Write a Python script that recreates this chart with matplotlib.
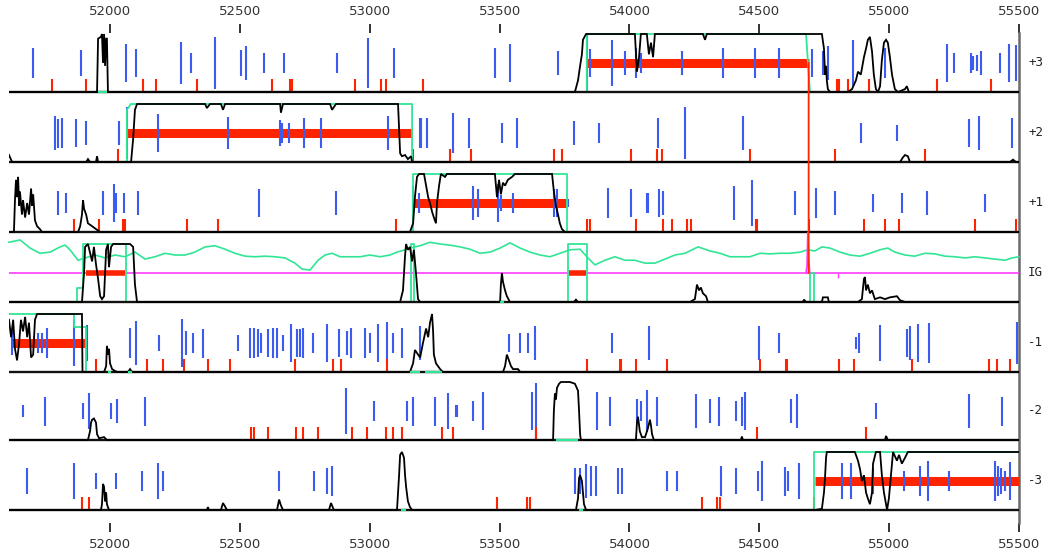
import matplotlib
matplotlib.use("Agg")
import matplotlib.pyplot as plt
from matplotlib.patches import ConnectionPatch

# ---------------------------------------------------------------- data
X_START, X_END = 51611, 55500
TICKS = [52000, 52500, 53000, 53500, 54000, 54500, 55000, 55500]
FRAME_LABELS = ["+3", "+2", "+1", "IG", "-1", "-2", "-3"]

# predicted genes (start, end) per frame
genes_p3 = [(53836, 54690)]
genes_p2 = [(52065, 53163)]
genes_p1 = [(53167, 53755)]
genes_ig = [(51908, 52058), (53767, 53833)]
genes_m1 = [(51623, 51908)]
genes_m2 = []
genes_m3 = [(54714, 55500)]

# start codons: position and relative score (bar length)
starts_p3 = [51704, 51888, 52062, 52100, 52273, 52312, 52404, 52504, 52524, 52593, 52670,
             52874, 52993, 53093, 53482, 53540, 53725, 53836, 53848, 53933, 53983, 54025,
             54044, 54202, 54360, 54483, 54576, 54703, 54745, 54764, 54861, 54984, 55222,
             55249, 55315, 55323, 55338, 55353, 55427, 55461, 55488]
score_p3 = [0.53, 0.45, 0.67, 0.48, 0.74, 0.34, 0.90, 0.45, 0.60, 0.36, 0.36, 0.34, 0.86,
            0.50, 0.53, 0.67, 0.43, 0.97, 0.48, 0.78, 0.43, 0.50, 0.33, 0.40, 0.53, 0.50,
            0.53, 0.48, 0.41, 0.60, 0.78, 0.50, 0.64, 0.33, 0.33, 0.24, 0.26, 0.40, 0.36,
            0.67, 0.62]
starts_p2 = [51788, 51800, 51815, 51869, 51908, 52035, 52065, 52185, 52454, 52655, 52662,
             52689, 52747, 52812, 53070, 53194, 53197, 53220, 53321, 53382, 53509, 53567,
             53786, 53883, 54110, 54214, 54437, 54891, 55030, 55307, 55346, 55473]
score_p2 = [0.57, 0.50, 0.52, 0.47, 0.40, 0.40, 0.90, 0.64, 0.55, 0.45, 0.34, 0.36, 0.52,
            0.52, 0.57, 0.52, 0.52, 0.52, 0.69, 0.52, 0.33, 0.52, 0.40, 0.33, 0.52, 0.90,
            0.60, 0.33, 0.29, 0.48, 0.57, 0.52]
starts_p1 = [51800, 51831, 51973, 52015, 52023, 52054, 52108, 52574, 52870, 53167, 53190,
             53398, 53417, 53494, 53505, 53552, 53709, 53721, 53763, 53917, 54006, 54067,
             54071, 54114, 54129, 54402, 54472, 54637, 54718, 54791, 54938, 55049, 55145,
             55369]
score_p1 = [0.40, 0.36, 0.41, 0.64, 0.34, 0.36, 0.40, 0.47, 0.40, 0.60, 0.34, 0.57, 0.47,
            0.66, 0.29, 0.34, 0.47, 0.47, 0.14, 0.52, 0.47, 0.36, 0.36, 0.48, 0.41, 0.57,
            0.81, 0.40, 0.52, 0.40, 0.31, 0.34, 0.40, 0.31]
starts_ig = []
score_ig = []
starts_m1 = [51623, 51723, 51738, 51757, 51861, 51911, 52077, 52100, 52189, 52277, 52293,
             52320, 52358, 52493, 52539, 52554, 52570, 52581, 52608, 52628, 52643, 52666,
             52697, 52720, 52732, 52743, 52782, 52835, 52882, 52912, 52928, 52982, 53001,
             53032, 53066, 53090, 53124, 53194, 53536, 53579, 53609, 53636, 53933, 54075,
             54499, 54576, 54872, 54884, 54965, 55068, 55080, 55111, 55153, 55492]
score_m1 = [0.41, 0.34, 0.34, 0.52, 0.78, 0.62, 0.52, 0.76, 0.29, 0.83, 0.43, 0.33, 0.50,
            0.29, 0.52, 0.52, 0.47, 0.33, 0.47, 0.53, 0.53, 0.29, 0.67, 0.47, 0.47, 0.53,
            0.33, 0.67, 0.47, 0.43, 0.53, 0.53, 0.33, 0.67, 0.74, 0.33, 0.53, 0.57, 0.31,
            0.34, 0.34, 0.60, 0.36, 0.59, 0.57, 0.33, 0.19, 0.33, 0.62, 0.47, 0.60, 0.64,
            0.69, 0.74]
starts_m2 = [51665, 51750, 51896, 51919, 52004, 52027, 52135, 52909, 53016, 53143, 53167,
             53251, 53301, 53332, 53336, 53398, 53436, 53625, 53640, 53875, 53925, 54029,
             54044, 54067, 54106, 54256, 54310, 54345, 54410, 54433, 54445, 54622, 54645,
             54949, 55307, 55434]
score_m2 = [0.22, 0.50, 0.26, 0.62, 0.26, 0.43, 0.50, 0.78, 0.36, 0.33, 0.50, 0.50, 0.62,
            0.22, 0.22, 0.36, 0.66, 0.67, 0.95, 0.67, 0.50, 0.41, 0.34, 0.71, 0.50, 0.57,
            0.41, 0.50, 0.36, 0.50, 0.67, 0.43, 0.60, 0.26, 0.60, 0.50]
starts_m3 = [51680, 51861, 51946, 52023, 52123, 52185, 52204, 52651, 52785, 52835, 52855,
             53790, 53810, 53833, 53852, 53871, 53956, 53971, 54144, 54183, 54352, 54410,
             54495, 54510, 54599, 54610, 54653, 54818, 54853, 54938, 55057, 55119, 55149,
             55230, 55407, 55419, 55430, 55446, 55465]
score_m3 = [0.45, 0.62, 0.28, 0.28, 0.34, 0.62, 0.34, 0.34, 0.34, 0.45, 0.52, 0.45, 0.45,
            0.59, 0.52, 0.52, 0.45, 0.45, 0.33, 0.33, 0.52, 0.45, 0.34, 0.69, 0.50, 0.34,
            0.62, 0.62, 0.62, 0.45, 0.34, 0.52, 0.69, 0.34, 0.69, 0.52, 0.45, 0.34, 0.66]

# stop codons
stops_p3 = [51777, 51908, 52127, 52177, 52335, 52624, 52693, 52701, 52943, 53043, 53063,
            53205, 54799, 54807, 54841, 54922, 55184, 55392]
stops_p2 = [52031, 53167, 53309, 53390, 53709, 53740, 54006, 54106, 54125, 54464, 54791,
            55138]
stops_p1 = [51861, 51958, 52050, 52058, 52296, 52416, 53101, 53836, 53848, 54025, 54129,
            54164, 54221, 54237, 54487, 54491, 54691, 54903, 54984, 55038, 55330, 55488]
stops_ig = []
stops_m1 = [51946, 52142, 52204, 52285, 52377, 52462, 52712, 52859, 52889, 53066, 53836,
            53964, 53967, 54025, 54144, 54503, 54603, 54606, 54807, 54864, 55088, 55384,
            55415, 55465]
stops_m2 = [52543, 52554, 52608, 52716, 52743, 52801, 52932, 52989, 53063, 53090, 53124,
            53278, 53321, 53640, 54491, 54911]
stops_m3 = [51892, 51919, 53490, 53605, 53617, 54279, 54337, 54349, 54710]

# coding potential (position, probability)
coding_p3 = [(51611, 0), (51950, 0), (51954, 0.92), (51965, 0.95), (51969, 1.0), (51973, 0.5),
             (51977, 1.0), (51981, 0.45), (51985, 0.92), (51988, 0.92), (51992, 0),
             (53790, 0), (53802, 0.2), (53810, 0.45), (53817, 0.65), (53821, 0.9),
             (53833, 1.0), (54021, 1.0), (54029, 0.35), (54037, 0.6), (54044, 1.0),
             (54067, 1.0), (54075, 0.65), (54083, 0.85), (54091, 0.6), (54098, 1.0),
             (54283, 1.0), (54291, 0.9), (54298, 1.0), (54741, 1.0), (54749, 0.75),
             (54753, 0.3), (54757, 0.45), (54760, 0.2), (54764, 0.05), (54772, 0),
             (54841, 0), (54857, 0.05), (54872, 0.2), (54880, 0.35), (54891, 0.3),
             (54903, 0.6), (54911, 0.75), (54918, 0.9), (54926, 0.95), (54934, 0.7),
             (54941, 0.3), (54949, 0.05), (54957, 0), (54965, 0.1), (54972, 0.55),
             (54980, 0.85), (54988, 0.9), (54995, 0.85), (55003, 0.6), (55011, 0.3),
             (55022, 0.05), (55034, 0), (55061, 0.05), (55068, 0.1), (55076, 0), (55500, 0)]
coding_p2 = [(51611, 0.12), (51623, 0), (51908, 0), (51915, 0.05), (51923, 0), (51946, 0),
             (51950, 0.1), (51954, 0), (52081, 0), (52089, 0.4), (52096, 0.9), (52104, 1.0),
             (52366, 1.0), (52373, 0.93), (52385, 1.0), (52427, 1.0), (52435, 0.9),
             (52443, 1.0), (52655, 1.0), (52658, 0.85), (52666, 1.0), (52847, 1.0),
             (52855, 0.9), (52870, 1.0), (53109, 1.0), (53117, 0.15), (53124, 0.1),
             (53136, 0.12), (53147, 0.05), (53159, 0.1), (53163, 0), (55042, 0),
             (55053, 0.08), (55061, 0.12), (55072, 0.1), (55080, 0), (55465, 0),
             (55477, 0.04), (55488, 0), (55500, 0)]
coding_p1 = [(51611, 0), (51630, 0), (51634, 0.55), (51638, 0.9), (51642, 0.6), (51646, 0.95),
             (51650, 0.45), (51653, 0.7), (51661, 0.3), (51665, 0.55), (51673, 0.25),
             (51681, 0.5), (51688, 0.3), (51696, 0.75), (51700, 0.45), (51704, 0.65),
             (51711, 0.2), (51719, 0.1), (51730, 0.05), (51738, 0), (51877, 0), (51885, 0.1),
             (51892, 0.3), (51896, 0.55), (51900, 0.4), (51908, 0.3), (51915, 0.15),
             (51931, 0.1), (51946, 0.05), (51962, 0), (53155, 0), (53167, 0.15),
             (53174, 0.6), (53182, 0.95), (53190, 1.0), (53209, 1.0), (53217, 0.8),
             (53225, 0.6), (53232, 0.5), (53240, 0.35), (53247, 0.25), (53255, 0.15),
             (53259, 0.5), (53267, 0.8), (53274, 1.0), (53290, 0.95), (53297, 1.0),
             (53482, 1.0), (53490, 0.6), (53498, 0.9), (53505, 0.65), (53513, 0.85),
             (53521, 0.8), (53532, 0.9), (53548, 0.95), (53559, 1.0), (53702, 1.0),
             (53709, 0.7), (53717, 0.45), (53725, 0.3), (53732, 0.15), (53740, 0.05),
             (53752, 0), (55500, 0)]
coding_ig = [(51611, 0), (51892, 0), (51900, 0.5), (51904, 0.95), (51915, 1.0), (51923, 0.85),
             (51931, 0.7), (51938, 0.95), (51946, 0.65), (51954, 0.4), (51962, 0.1),
             (51969, 0.05), (51977, 0.1), (51985, 0.9), (51992, 1.0), (51996, 0.6),
             (52004, 0.95), (52012, 1.0), (52077, 1.0), (52089, 0.95), (52096, 0.3),
             (52104, 0), (53117, 0), (53128, 0.2), (53136, 0.8), (53140, 1.0), (53147, 0.9),
             (53155, 0.95), (53163, 0.7), (53170, 0.9), (53178, 0.5), (53186, 0.05),
             (53194, 0), (53502, 0), (53505, 0.3), (53509, 0.5), (53513, 0.35), (53521, 0.2),
             (53528, 0.1), (53540, 0), (53786, 0), (53794, 0.04), (53802, 0), (54233, 0),
             (54252, 0.05), (54260, 0.3), (54268, 0.2), (54275, 0.25), (54283, 0.15),
             (54295, 0.1), (54302, 0), (54668, 0), (54672, 0.04), (54680, 0), (54741, 0),
             (54745, 0.08), (54764, 0.08), (54768, 0), (54880, 0), (54895, 0.05),
             (54903, 0.4), (54907, 0.43), (54911, 0.2), (54918, 0.3), (54926, 0.15),
             (54934, 0.2), (54945, 0.05), (54965, 0.08), (54984, 0.05), (55003, 0.08),
             (55030, 0.1), (55042, 0.03), (55061, 0), (55500, 0)]
coding_m1 = [(51611, 0.9), (51619, 0.6), (51627, 0.9), (51634, 0.4), (51642, 0.2), (51650, 0.5),
             (51657, 0.9), (51665, 0.7), (51673, 0.95), (51681, 0.6), (51688, 0.85),
             (51696, 0.25), (51704, 0.3), (51711, 0.9), (51719, 1.0), (51892, 1.0),
             (51894, 0), (51977, 0), (51985, 0.1), (51988, 0.45), (51992, 0.3), (51996, 0.4),
             (52000, 0.15), (52008, 0.05), (52015, 0.03), (52027, 0), (52069, 0),
             (52077, 0.05), (52085, 0), (53155, 0), (53167, 0.15), (53174, 0.38),
             (53186, 0.3), (53194, 0.25), (53205, 0.5), (53217, 0.75), (53225, 0.6),
             (53232, 0.85), (53240, 1.0), (53244, 0.7), (53247, 0.3), (53255, 0.15),
             (53263, 0.1), (53271, 0.05), (53282, 0), (53513, 0), (53521, 0.1), (53528, 0.3),
             (53536, 0.2), (53544, 0.1), (53552, 0.05), (53571, 0.05), (53579, 0), (55500, 0)]
coding_m2 = [(51611, 0), (51915, 0), (51923, 0.15), (51927, 0.3), (51931, 0.35), (51938, 0.37),
             (51946, 0.3), (51950, 0.1), (51958, 0.03), (51977, 0.05), (51988, 0),
             (53706, 0), (53709, 0.5), (53713, 0.8), (53717, 0.7), (53721, 0.9),
             (53729, 0.97), (53736, 1.0), (53771, 1.0), (53790, 0.97), (53802, 0.85),
             (53806, 0.5), (53810, 0.1), (53813, 0), (54025, 0), (54029, 0.3), (54033, 0.4),
             (54040, 0.15), (54048, 0.05), (54060, 0.05), (54071, 0.2), (54079, 0.35),
             (54083, 0.25), (54087, 0.1), (54094, 0), (54429, 0), (54433, 0.06), (54437, 0),
             (54984, 0), (54988, 0.07), (54995, 0), (55500, 0)]
coding_m3 = [(51611, 0), (51965, 0), (51969, 0.1), (51973, 0.45), (51977, 0.4), (51981, 0.15),
             (51985, 0.3), (51988, 0.1), (51996, 0), (52373, 0), (52377, 0.05), (52381, 0),
             (52427, 0), (52435, 0.12), (52443, 0.06), (52450, 0), (52643, 0), (52651, 0.18),
             (52658, 0.08), (52666, 0), (52843, 0), (52851, 0.12), (52862, 0), (53105, 0),
             (53113, 0.6), (53117, 0.95), (53124, 1.0), (53132, 0.9), (53136, 0.6),
             (53140, 0.4), (53147, 0.15), (53155, 0.05), (53163, 0), (53794, 0),
             (53802, 0.2), (53806, 0.55), (53810, 0.6), (53817, 0.5), (53821, 0.3),
             (53825, 0.1), (53833, 0), (54714, 0), (54741, 0.02), (54749, 0.3), (54753, 0.55),
             (54757, 0.9), (54760, 1.0), (54868, 1.0), (54880, 0.85), (54888, 0.7),
             (54895, 0.5), (54903, 0.6), (54911, 0.3), (54918, 0.2), (54926, 0.1),
             (54934, 0.3), (54938, 0.8), (54949, 1.0), (54965, 1.0), (54972, 0.6),
             (54980, 0.3), (54988, 0.1), (54992, 0.0), (54999, 0.2), (55007, 0.6),
             (55015, 1.0), (55030, 0.85), (55038, 0.95), (55049, 0.8), (55061, 0.9),
             (55072, 1.0), (55500, 1.0)]

# second model (outline traces)
model_p3 = [[(53794, 0), (53836, 0), (53836, 1.0), (54680, 1.0), (54695, 0), (55022, 0)],
            [(51954, 0), (51988, 0)]]
model_p2 = [[(52058, 0), (52065, 0), (52065, 0.9), (52080, 1.0), (53163, 1.0), (53163, 0),
             (53170, 0)]]
model_p1 = [[(53160, 0), (53167, 0), (53167, 1.0), (53759, 1.0), (53759, 0), (53765, 0)]]
model_ig = [[(51865, 0), (51873, 0), (51873, 0.25), (51896, 0.25), (51896, 1.0), (52062, 1.0),
             (52062, 0), (52104, 0)],
            [(53155, 0), (53159, 0), (53159, 1.0), (53170, 1.0), (53170, 0), (53175, 0)],
            [(53755, 0), (53763, 0), (53763, 1.0), (53836, 1.0), (53836, 0), (53845, 0)],
            [(54695, 0), (54695, 0.5), (54710, 0.5), (54710, 0)],
            [(53502, 0), (53517, 0)]]
model_m1 = [[(51611, 1.0), (51861, 1.0), (51861, 0.78), (51908, 0.78), (51908, 0), (51923, 0)],
            [(51992, 0), (52004, 0)], [(52069, 0), (52085, 0)],
            [(53155, 0), (53194, 0)], [(53213, 0), (53278, 0)]]
model_m2 = [[(53717, 0), (53802, 0)]]
model_m3 = [[(54703, 0), (54710, 0), (54710, 1.0), (55500, 1.0)],
            [(53120, 0), (53140, 0)], [(53806, 0), (53821, 0)]]

# GC content along the intergenic track (position, relative level)
gc_pos = [51611, 51654, 51692, 51730, 51769, 51808, 51827, 51846, 51877, 51904, 51942, 51981,
          52019, 52058, 52096, 52135, 52173, 52212, 52250, 52289, 52327, 52366, 52404, 52443,
          52481, 52520, 52558, 52597, 52635, 52674, 52712, 52739, 52770, 52801, 52828, 52855,
          52886, 52924, 52963, 53001, 53040, 53078, 53105, 53136, 53155, 53194, 53232, 53271,
          53309, 53348, 53386, 53425, 53463, 53502, 53540, 53579, 53617, 53656, 53694, 53733,
          53771, 53810, 53836, 53867, 53906, 53944, 53983, 54021, 54060, 54098, 54137, 54175,
          54214, 54264, 54310, 54349, 54387, 54426, 54464, 54503, 54541, 54580, 54618, 54657,
          54687, 54714, 54741, 54772, 54811, 54849, 54888, 54926, 54965, 54995, 55022, 55061,
          55099, 55138, 55176, 55215, 55253, 55292, 55330, 55369, 55407, 55446, 55473, 55500]
gc_level = [1.03, 1.07, 0.93, 0.84, 0.86, 0.95, 0.98, 0.90, 0.72, 0.76, 0.81, 0.76,
            0.81, 0.78, 0.86, 0.74, 0.78, 0.84, 0.81, 0.81, 0.86, 0.95, 0.97, 0.91,
            0.84, 0.79, 0.78, 0.79, 0.78, 0.76, 0.67, 0.57, 0.55, 0.72, 0.81, 0.84,
            0.78, 0.78, 0.78, 0.81, 0.78, 0.81, 0.86, 0.90, 0.93, 0.97, 1.03, 1.00,
            0.98, 0.95, 0.91, 0.84, 0.86, 0.93, 1.02, 0.93, 0.86, 0.81, 0.78, 0.84,
            0.90, 0.91, 0.78, 0.64, 0.72, 0.78, 0.72, 0.72, 0.67, 0.67, 0.74, 0.81,
            0.84, 0.95, 0.88, 0.84, 0.78, 0.78, 0.78, 0.84, 0.83, 0.84, 0.84, 0.86,
            0.90, 0.88, 0.95, 0.93, 0.86, 0.81, 0.79, 0.84, 0.90, 0.93, 0.86, 0.81,
            0.79, 0.84, 0.83, 0.79, 0.78, 0.76, 0.78, 0.76, 0.74, 0.72, 0.76, 0.78]

# signal peak on the intergenic track
signal_peak = [(54680, 0.5), (54684, 0.62), (54687, 1.2), (54690, 0.75), (54694, 0.5)]
signal_tick = 54803
frameshift_pos = 54690

# ---------------------------------------------------------------- styling
BLUE = "#3c5cf0"
RED = "#ff2400"
GREEN = "#30e596"
MAGENTA = "#ff3cff"
W, H = 1044, 552
LEFT, RIGHT = 9, 1019
BASELINES = [92, 162, 232, 302, 372, 440, 510]
PANEL_H = 58
PAD = 6

fig = plt.figure(figsize=(W / 100, H / 100), dpi=100)
fig.patch.set_facecolor("white")

# axis frame with coordinate ticks
frame = fig.add_axes([LEFT / W, (H - 523) / H, (RIGHT - LEFT) / W, (523 - 33) / H], zorder=0)
frame.set_xlim(X_START, X_END)
frame.set_ylim(0, 1)
frame.set_xticks(TICKS)
frame.set_xticklabels([str(t) for t in TICKS])
frame.set_yticks([])
frame.tick_params(axis="x", top=True, bottom=True, labeltop=True, labelbottom=True,
                  direction="out", length=6.5, width=1.3, color="#222222", pad=4.5,
                  labelsize=9.5, labelcolor="#333333")
for side in ("top", "bottom", "left"):
    frame.spines[side].set_visible(False)
frame.spines["right"].set_color("#6a6a6a")
frame.spines["right"].set_linewidth(1.8)
frame.patch.set_alpha(0)

tracks = [
    (genes_p3, starts_p3, score_p3, stops_p3, coding_p3, model_p3),
    (genes_p2, starts_p2, score_p2, stops_p2, coding_p2, model_p2),
    (genes_p1, starts_p1, score_p1, stops_p1, coding_p1, model_p1),
    (genes_ig, starts_ig, score_ig, stops_ig, coding_ig, model_ig),
    (genes_m1, starts_m1, score_m1, stops_m1, coding_m1, model_m1),
    (genes_m2, starts_m2, score_m2, stops_m2, coding_m2, model_m2),
    (genes_m3, starts_m3, score_m3, stops_m3, coding_m3, model_m3),
]

axes = []
for idx, (base, label, track) in enumerate(zip(BASELINES, FRAME_LABELS, tracks)):
    genes, starts, score, stops, coding, model = track
    ax = fig.add_axes([LEFT / W, (H - base - PAD) / H, (RIGHT - LEFT) / W,
                       (PANEL_H + 2 * PAD) / H], zorder=1 + idx)
    ax.set_xlim(X_START, X_END)
    ax.set_ylim(-PAD / PANEL_H, 1 + PAD / PANEL_H)
    ax.axis("off")
    axes.append(ax)

    is_ig = label == "IG"
    if is_ig:
        ax.plot(gc_pos, gc_level, color=GREEN, lw=1.2, zorder=2, clip_on=False)
        ax.plot([X_START, X_END], [0.5, 0.5], color=MAGENTA, lw=1.2, zorder=2)
        ax.plot([p for p, _ in signal_peak], [v for _, v in signal_peak], color=MAGENTA,
                lw=1.3, zorder=6, clip_on=False)
        ax.vlines(signal_tick, 0.42, 0.5, color=MAGENTA, lw=1.0, zorder=6)

    for s, e in genes:
        ax.hlines(0.5, s, e, color=RED, lw=4.0 if is_ig else 6.5, zorder=3,
                  capstyle="butt")

    if starts:
        lo = [0.5 - v / 2 for v in score]
        hi = [0.5 + v / 2 for v in score]
        ax.vlines(starts, lo, hi, color=BLUE, lw=1.5, zorder=4)
    if stops:
        ax.vlines(stops, 0, 0.22, color=RED, lw=1.5, zorder=4)

    for seg in model:
        xs = [p for p, _ in seg]
        ys = [v for _, v in seg]
        on_base = all(v == 0 for v in ys)
        ax.plot(xs, ys, color=GREEN, lw=1.6 if on_base else 1.3,
                zorder=7 if on_base else 4.5, solid_capstyle="butt")

    ax.plot([X_START, X_END], [0, 0], color="#111111", lw=1.7, zorder=5)
    ax.plot([p for p, _ in coding], [v for _, v in coding], color="black", lw=1.3,
            zorder=6, solid_joinstyle="miter")

    ax.annotate(label, xy=(1, 0.5), xycoords=("axes fraction", "data"),
                xytext=(6.5, 0), textcoords="offset points", ha="left", va="center",
                fontsize=9, family="DejaVu Sans Mono", color="#222222",
                annotation_clip=False)

# frame-shift link between the +3 gene end and the intergenic track
link = ConnectionPatch(xyA=(frameshift_pos, 0.5), coordsA="data", axesA=axes[0],
                       xyB=(frameshift_pos, 0.5), coordsB="data", axesB=axes[3],
                       color=RED, lw=1.3, zorder=10)
fig.add_artist(link)

fig.savefig("out.png", dpi=100, facecolor="white")
